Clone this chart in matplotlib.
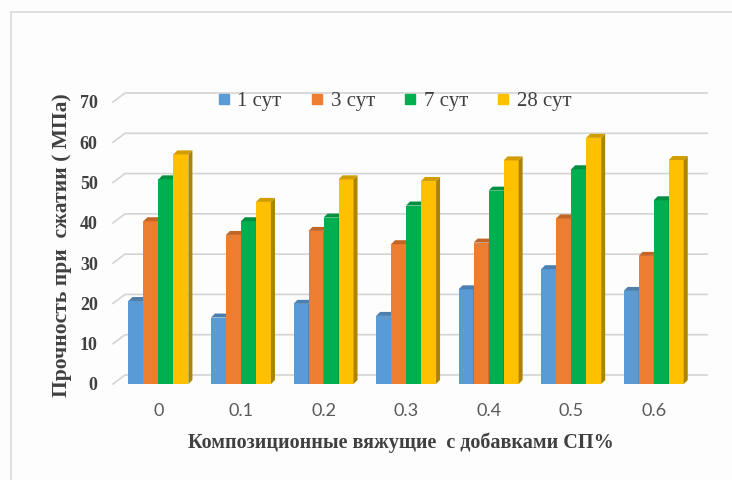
import matplotlib
matplotlib.use("Agg")
import matplotlib.pyplot as plt
from matplotlib.patches import Polygon, Rectangle
from matplotlib.lines import Line2D
from matplotlib.colors import to_rgb
import numpy as np

# ---- data -------------------------------------------------------------
categories = ["0", "0.1", "0.2", "0.3", "0.4", "0.5", "0.6"]
series_labels = ["1 сут", "3 сут", "7 сут", "28 сут"]
day1 = [20.6, 16.5, 19.9, 16.9, 23.5, 28.5, 23.1]
day3 = [40.4, 37.0, 38.0, 34.7, 35.1, 41.1, 31.8]
day7 = [50.8, 40.4, 41.3, 44.3, 48.0, 53.3, 45.6]
day28 = [57.0, 45.2, 50.8, 50.4, 55.5, 61.1, 55.6]
y_ticks = [0, 10, 20, 30, 40, 50, 60, 70]

series = [day1, day3, day7, day28]
colors = ["#5B9BD5", "#ED7D31", "#00B050", "#FFC000"]


def shade(c, f):
    r, g, b = to_rgb(c)
    return (r * f, g * f, b * f)


SERIF = "Liberation Serif"
SANS = "Lato"
TXT = "#404040"

W, H = 732, 480
fig = plt.figure(figsize=(W / 100, H / 100), dpi=100, facecolor="#FDFDFD")

# outer chart frame
fig.patches.append(Rectangle((11 / W, -0.2), 2.0, (H - 12) / H + 0.2,
                             transform=fig.transFigure, fill=False,
                             edgecolor="#D9D9D9", lw=1.2))

ax_l, ax_b, ax_w, ax_h = 113, 96, 582, 282
ax = fig.add_axes([ax_l / W, ax_b / H, ax_w / W, ax_h / H])
x0, x1 = -0.55, 6.5
ax.set_xlim(x0, x1)
ax.set_ylim(0, 70)
ax.patch.set_visible(False)
for s in ax.spines.values():
    s.set_visible(False)

# pixel size in data units
px_x = (x1 - x0) / ax_w
px_y = 70 / ax_h
wall_dx, wall_dy = 12 * px_x, 9 * px_y      # depth of the back wall
bar_dx, bar_dy = 4 * px_x, 4 * px_y         # depth of each column

# gridlines on the back wall with slanted floor edge
for v in y_ticks:
    ax.plot([x0, x0 + wall_dx, x1 + wall_dx], [v, v + wall_dy, v + wall_dy],
            color="#D4D4D4", lw=1.2, clip_on=False, zorder=0)

x = np.arange(len(categories))
bw = 15 * px_x
for i, (vals, c) in enumerate(zip(series, colors)):
    off = (i - 1.5) * bw
    z = 3 + i
    ax.bar(x + off, vals, bw, color=c, lw=0, zorder=z)
    for xc, v in zip(x + off, vals):
        xl, xr = xc - bw / 2, xc + bw / 2
        ax.add_patch(Polygon([(xr, 0), (xr, v), (xr + bar_dx, v + bar_dy),
                              (xr + bar_dx, bar_dy)], closed=True,
                             facecolor=shade(c, 0.68), lw=0, zorder=z,
                             clip_on=False))
        ax.add_patch(Polygon([(xl, v), (xr, v), (xr + bar_dx, v + bar_dy),
                              (xl + bar_dx, v + bar_dy)], closed=True,
                             facecolor=shade(c, 0.82), lw=0, zorder=z,
                             clip_on=False))

ax.set_xticks(x, categories)
ax.set_yticks(y_ticks, [str(t) for t in y_ticks])
ax.tick_params(axis="both", length=0)
ax.tick_params(axis="x", pad=14)
ax.tick_params(axis="y", pad=11)
for lab in ax.get_xticklabels():
    lab.set_fontfamily(SANS)
    lab.set_fontsize(13)
    lab.set_color("#595959")
for lab in ax.get_yticklabels():
    lab.set_fontfamily(SERIF)
    lab.set_fontweight("bold")
    lab.set_fontsize(13)
    lab.set_color(TXT)

fig.text(62 / W, 1 - 245 / H, "Прочность при  сжатии ( МПа)", rotation=90,
         ha="center", va="center", family=SERIF, weight="bold", fontsize=15.5,
         color=TXT)
fig.text(401 / W, 1 - 443 / H, "Композиционные вяжущие  с добавками СП%",
         ha="center", va="center", family=SERIF, weight="bold", fontsize=14.5,
         color=TXT)

handles = [Line2D([], [], ls="none", marker="s", markersize=7, color=c)
           for c in colors]
fig.legend(handles, series_labels, ncol=4, loc="center",
           bbox_to_anchor=(394 / W, 1 - 101 / H), frameon=False,
           prop={"family": SERIF, "size": 15}, handlelength=0.7,
           handletextpad=0.3, columnspacing=1.35, labelcolor=TXT)

fig.savefig("out.png", dpi=100, facecolor=fig.get_facecolor())
